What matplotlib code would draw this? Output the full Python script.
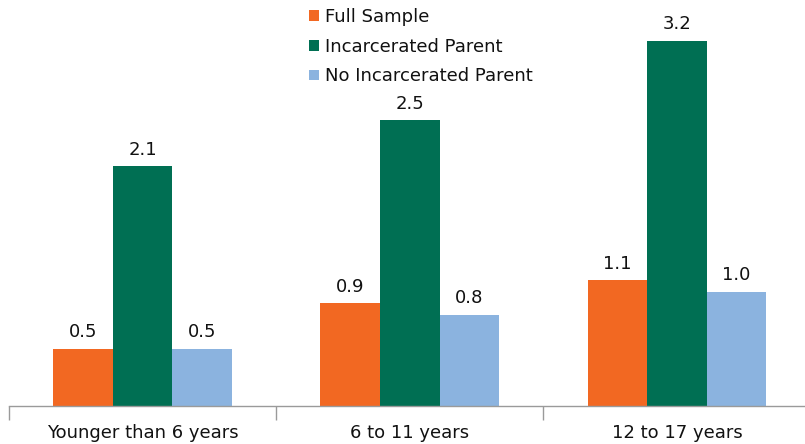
import matplotlib
matplotlib.use("Agg")
import matplotlib.pyplot as plt
import numpy as np
from matplotlib.patches import Patch

plt.rcParams["font.family"] = ["DejaVu Sans"]

categories = ["Younger than 6 years", "6 to 11 years", "12 to 17 years"]
series_names = ["Full Sample", "Incarcerated Parent", "No Incarcerated Parent"]
full_sample = [0.5, 0.9, 1.1]
incarcerated = [2.1, 2.5, 3.2]
not_incarcerated = [0.5, 0.8, 1.0]
colors = ["#F26822", "#006F53", "#8BB3DF"]

W, H = 805, 444
FS = 13
fig = plt.figure(figsize=(W / 100, H / 100), dpi=100)
ax = fig.add_axes([9 / W, 38 / H, (W - 9) / W, (H - 38) / H])

x = np.arange(len(categories))
bw = 0.223
for i, (vals, col) in enumerate(zip([full_sample, incarcerated, not_incarcerated], colors)):
    pos = x + (i - 1) * bw
    ax.bar(pos, vals, width=bw, color=col, linewidth=0)
    for p, v in zip(pos, vals):
        ax.text(p, v + 0.065, f"{v:.1f}", ha="center", va="bottom",
                fontsize=FS, color="#111111")

for s in ["top", "right", "left"]:
    ax.spines[s].set_visible(False)
ax.spines["bottom"].set_color("#9a9a9a")
ax.spines["bottom"].set_linewidth(1)
ax.set_yticks([])

ax.set_xticks(x)
ax.set_xticklabels(categories, fontsize=FS, color="#111111")
ax.tick_params(axis="x", which="major", length=0, pad=13)
ax.set_xticks([-0.5, 0.5, 1.5, 2.5], minor=True)
ax.tick_params(axis="x", which="minor", length=10, color="#9a9a9a", width=1)

ax.set_xlim(-0.5, (W - 143) / 267)
ax.set_ylim(0, 406 / 114.2)

handles = [Patch(facecolor=c, edgecolor="none") for c in colors]
fig.legend(handles, series_names, loc="upper left",
           bbox_to_anchor=(302 / W, 1 - 1 / H), frameon=False, fontsize=FS,
           handlelength=0.55, handleheight=0.55, handletextpad=0.35,
           labelspacing=0.64, borderaxespad=0, labelcolor="#111111")

fig.savefig("out.png", dpi=100)
